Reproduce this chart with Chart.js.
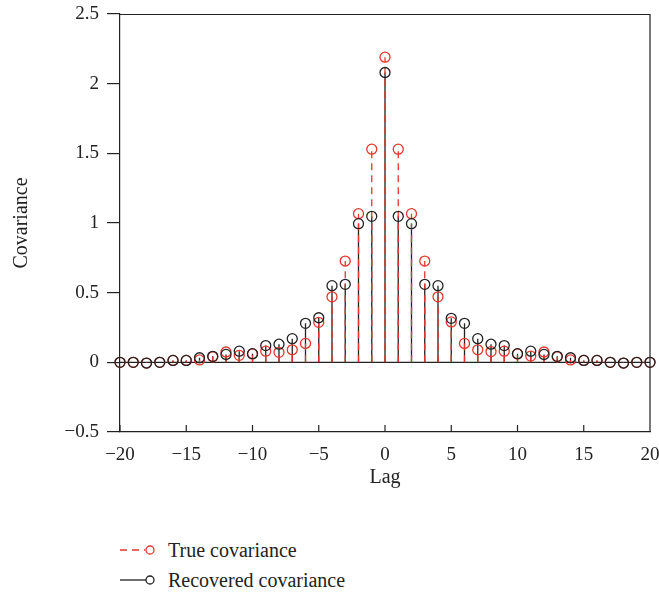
<!DOCTYPE html>
<html lang="en">
<head>
    <meta charset="UTF-8">
    <title>Covariance</title>
    <script src="https://cdn.jsdelivr.net/npm/chart.js"></script>
    <style>
        body { margin: 0; background: #fff; }
        #wrap { position: relative; width: 659px; height: 593px; font-family: "Liberation Serif", "DejaVu Serif", serif; }
        .item { position: absolute; left: 118px; height: 24px; display: flex; align-items: center; font-size: 20px; color: #222; }
        .item svg { margin-right: 5px; }
    </style>
</head>
<body>
<div id="wrap">
    <canvas id="covChart" width="659" height="500"></canvas>
    <div class="item" style="top: 538px;">
        <svg width="45" height="20"><line x1="2" y1="10" x2="27" y2="10" stroke="#e3372c" stroke-width="1.3" stroke-dasharray="7,5"/><circle cx="32" cy="10" r="4" fill="none" stroke="#e3372c" stroke-width="1.3"/></svg>
        <span>True covariance</span>
    </div>
    <div class="item" style="top: 568px;">
        <svg width="45" height="20"><line x1="2" y1="10" x2="28" y2="10" stroke="#222" stroke-width="1.3"/><circle cx="32" cy="10" r="4" fill="none" stroke="#222" stroke-width="1.3"/></svg>
        <span>Recovered covariance</span>
    </div>
</div>

<script>
    // 데이터
    const lags = [-20, -19, -18, -17, -16, -15, -14, -13, -12, -11, -10, -9, -8, -7, -6, -5, -4, -3, -2, -1,
        0, 1, 2, 3, 4, 5, 6, 7, 8, 9, 10, 11, 12, 13, 14, 15, 16, 17, 18, 19, 20];
    const trueCov = [0, 0, -0.005, 0, 0.014, 0.014, 0.017, 0.04, 0.074, 0.05, 0.06, 0.08, 0.072, 0.09, 0.136, 0.287, 0.47, 0.727, 1.067, 1.53,
        2.19, 1.53, 1.067, 0.727, 0.47, 0.29, 0.136, 0.09, 0.077, 0.08, 0.06, 0.045, 0.074, 0.04, 0.017, 0.014, 0.014, 0, -0.005, 0, 0];
    const recCov = [0, 0, -0.005, 0, 0.014, 0.014, 0.033, 0.043, 0.057, 0.08, 0.062, 0.12, 0.13, 0.17, 0.28, 0.32, 0.55, 0.56, 0.995, 1.048,
        2.08, 1.048, 0.995, 0.56, 0.55, 0.316, 0.28, 0.17, 0.13, 0.12, 0.062, 0.08, 0.057, 0.043, 0.033, 0.014, 0.014, 0, -0.005, 0, 0];
    const xTicks = [-20, -15, -10, -5, 0, 5, 10, 15, 20];
    const yTicks = [-0.5, 0, 0.5, 1, 1.5, 2, 2.5];

    const red = '#e3372c';
    const black = '#222222';
    const font = { family: '"Liberation Serif", "DejaVu Serif", serif', size: 19 };
    const titleFont = { family: '"Liberation Serif", "DejaVu Serif", serif', size: 20 };

    // 줄기(stem) 데이터: 0 -> 값, 그 다음 빈 점으로 끊기
    function stems(values) {
        const out = [];
        lags.forEach((lag, i) => {
            out.push({ x: lag, y: 0 }, { x: lag, y: values[i] }, { x: lag, y: null });
        });
        return out;
    }
    function points(values) {
        return lags.map((lag, i) => ({ x: lag, y: values[i] }));
    }

    // 위/오른쪽 테두리와 안쪽 x 눈금
    const framePlugin = {
        id: 'frame',
        afterDraw(chart) {
            const { ctx, chartArea: a, scales: { x } } = chart;
            ctx.save();
            ctx.strokeStyle = black;
            ctx.lineWidth = 1.2;
            ctx.beginPath();
            ctx.moveTo(a.left, a.top + 0.5);
            ctx.lineTo(a.right, a.top + 0.5);
            ctx.lineTo(a.right, a.bottom);
            xTicks.forEach(t => {
                const px = x.getPixelForValue(t);
                ctx.moveTo(px, a.bottom);
                ctx.lineTo(px, a.bottom - 7);
            });
            ctx.stroke();
            ctx.restore();
        }
    };

    const ctx = document.getElementById('covChart').getContext('2d');
    new Chart(ctx, {
        type: 'line',
        data: {
            datasets: [
                {
                    label: 'Recovered covariance',
                    data: points(recCov),
                    showLine: false,
                    pointRadius: 5,
                    pointHoverRadius: 5,
                    pointBorderWidth: 1.3,
                    pointBorderColor: black,
                    pointBackgroundColor: 'rgba(0,0,0,0)',
                    clip: false,
                    order: 1
                },
                {
                    label: 'True covariance',
                    data: points(trueCov),
                    showLine: false,
                    pointRadius: 5,
                    pointHoverRadius: 5,
                    pointBorderWidth: 1.3,
                    pointBorderColor: red,
                    pointBackgroundColor: 'rgba(0,0,0,0)',
                    clip: false,
                    order: 2
                },
                {
                    label: 'true stems',
                    data: stems(trueCov),
                    borderColor: red,
                    borderWidth: 1.3,
                    borderDash: [7, 5],
                    pointRadius: 0,
                    spanGaps: false,
                    order: 3
                },
                {
                    label: 'recovered stems',
                    data: stems(recCov),
                    borderColor: black,
                    borderWidth: 1.3,
                    pointRadius: 0,
                    spanGaps: false,
                    order: 4
                },
                {
                    label: 'baseline',
                    data: [{ x: lags[0], y: 0 }, { x: lags[lags.length - 1], y: 0 }],
                    borderColor: black,
                    borderWidth: 1.2,
                    pointRadius: 0,
                    order: 5
                }
            ]
        },
        options: {
            responsive: false,
            animation: false,
            events: [],
            layout: { padding: { top: 14, right: 9, left: 0, bottom: 0 } },
            plugins: { legend: { display: false }, tooltip: { enabled: false } },
            scales: {
                x: {
                    type: 'linear',
                    min: -20,
                    max: 20,
                    afterFit: s => { s.height = 68; s.paddingLeft = 0; s.paddingRight = 0; },
                    afterBuildTicks: s => { s.ticks = xTicks.map(v => ({ value: v })); },
                    grid: { display: true, drawOnChartArea: false, drawTicks: false },
                    border: { display: true, color: black, width: 1.2 },
                    ticks: {
                        padding: 12,
                        color: black,
                        font: font,
                        callback: v => String(v).replace('-', '\u2212')
                    },
                    title: { display: true, text: 'Lag', color: black, font: titleFont, padding: { bottom: 10 } }
                },
                y: {
                    min: -0.5,
                    max: 2.5,
                    afterFit: s => { s.width = 120; s.paddingTop = 0; s.paddingBottom = 0; },
                    afterBuildTicks: s => { s.ticks = yTicks.map(v => ({ value: v })); },
                    grid: { drawOnChartArea: false, drawTicks: true, tickLength: 13, color: black, lineWidth: 1.2 },
                    border: { display: true, color: black, width: 1.2 },
                    ticks: {
                        padding: 8,
                        color: black,
                        font: font,
                        callback: v => String(v).replace('-', '\u2212')
                    },
                    title: { display: true, text: 'Covariance', color: black, font: titleFont, padding: { top: 10 } }
                }
            }
        },
        plugins: [framePlugin]
    });
</script>
</body>
</html>
